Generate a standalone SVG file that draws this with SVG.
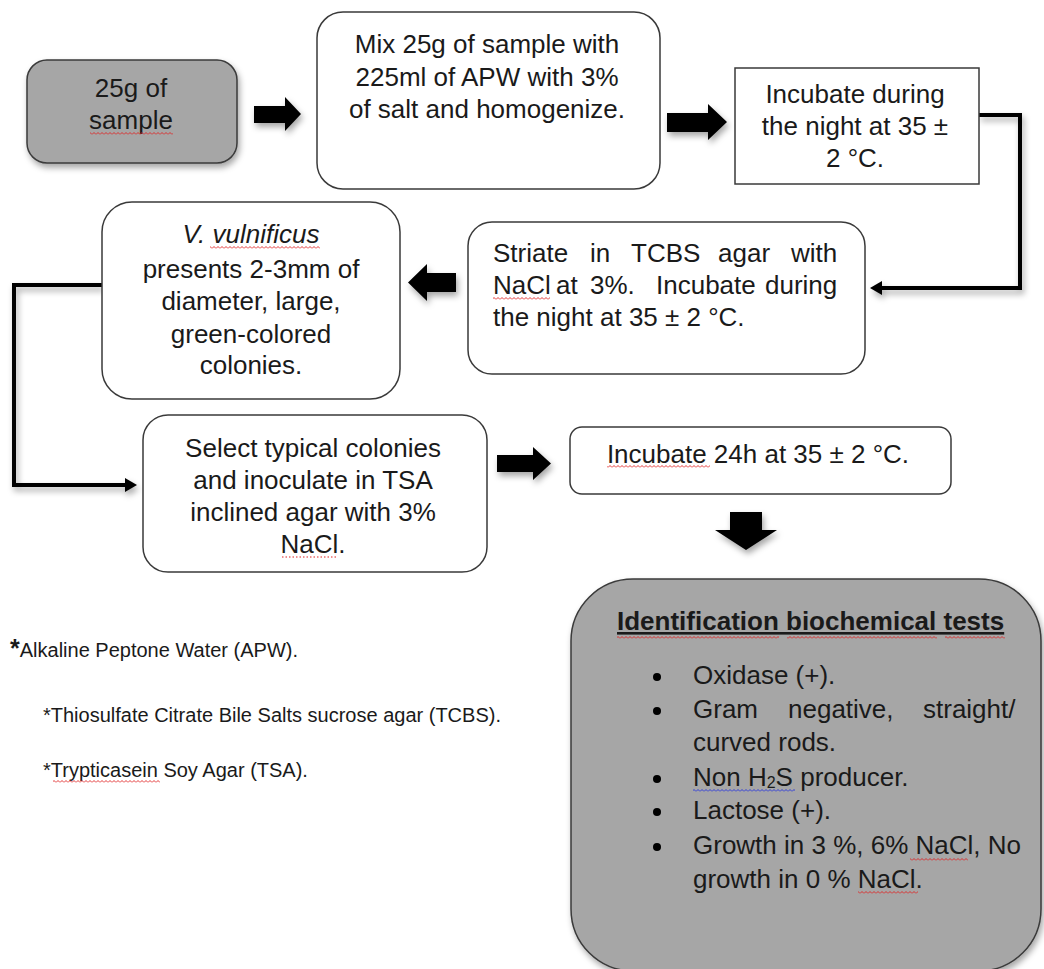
<svg xmlns="http://www.w3.org/2000/svg" width="1044" height="969" viewBox="0 0 1044 969">
<style>
.t{font-family:"Liberation Sans",Arial,sans-serif;font-size:26px;fill:#1a1a1a}
.c{text-anchor:middle}
.fn{font-family:"Liberation Sans",Arial,sans-serif;font-size:20px;fill:#1a1a1a}
.box{fill:#fff;stroke:#3a3a3a;stroke-width:1.5}
.gbox{fill:#a6a6a6;stroke:#3a3a3a;stroke-width:1.5}
.blk{fill:#000}
.conn{fill:none;stroke:#000;stroke-width:4}
.sq{fill:url(#sqr)}
.sqb{fill:url(#sqb)}
</style>
<defs>
<filter id="sh" x="-20%" y="-20%" width="150%" height="160%">
<feDropShadow dx="2" dy="4" stdDeviation="3" flood-color="#000" flood-opacity="0.35"/>
</filter>
<marker id="ah" markerWidth="12" markerHeight="14" refX="5" refY="7" orient="auto" markerUnits="userSpaceOnUse">
<path d="M0,0 L12,7 L0,14 z" fill="#000"/>
</marker>
<pattern id="sqr" width="4" height="3" patternUnits="userSpaceOnUse">
<path d="M0,2.5 L2,0.5 L4,2.5" fill="none" stroke="#e02020" stroke-width="0.9"/>
</pattern>
<pattern id="sqb" width="4" height="3" patternUnits="userSpaceOnUse">
<path d="M0,2.5 L2,0.5 L4,2.5" fill="none" stroke="#2030e0" stroke-width="0.9"/>
</pattern>
</defs>
<rect width="1044" height="969" fill="#fff"/>

<g id="connectors">
<path class="conn" d="M979,115 H1020 V288 H877" marker-end="url(#ah)" filter="url(#sh)"/>
<path class="conn" d="M102,285 H14 V485 H130" marker-end="url(#ah)" filter="url(#sh)"/>
<path class="blk" d="M254,106 H285 V97 L301,114 L285,131 V123 H254 Z" filter="url(#sh)"/>
<path class="blk" d="M667,113 H708 V104 L727,122 L708,140 V132 H667 Z" filter="url(#sh)"/>
<path class="blk" d="M456,273 H427 V264 L408,282.5 L427,301 V292 H456 Z" filter="url(#sh)"/>
<path class="blk" d="M497,455 H533 V447 L551,463.5 L533,480 V472 H497 Z" filter="url(#sh)"/>
<path class="blk" d="M730,512 H762 V530 H777 L746,550 L715,530 H730 Z" filter="url(#sh)"/>
</g>

<g id="n1">
<rect class="gbox" x="27" y="60" width="210" height="103" rx="20" filter="url(#sh)"/>
<text class="t c" x="131" y="97">25g of</text>
<text class="t c" x="131" y="129">sample</text>
<rect class="sq" x="90" y="132" width="83" height="3"/>
</g>

<g id="n2">
<rect class="box" x="317" y="12" width="343" height="177" rx="26"/>
<text class="t c" x="487" y="53">Mix 25g of sample with</text>
<text class="t c" x="487" y="86">225ml of APW with 3%</text>
<text class="t c" x="487" y="118">of salt and homogenize.</text>
</g>

<g id="n3">
<rect class="box" x="735" y="68" width="244" height="116"/>
<text class="t c" x="855" y="103">Incubate during</text>
<text class="t c" x="855" y="135">the night at 35 ±</text>
<text class="t c" x="855" y="167">2 °C.</text>
</g>

<g id="n4">
<rect class="box" x="468" y="222" width="397" height="152" rx="24"/>
<text class="t" y="262"><tspan x="493">Striate</tspan><tspan x="590">in</tspan><tspan x="631">TCBS</tspan><tspan x="718">agar</tspan><tspan x="791">with</tspan></text>
<text class="t" y="294"><tspan x="493">NaCl</tspan><tspan x="556">at</tspan><tspan x="590">3%.</tspan><tspan x="656">Incubate</tspan><tspan x="765">during</tspan></text>
<text class="t" x="493" y="326">the night at 35 ± 2 °C.</text>
<rect class="sq" x="493" y="297" width="57" height="3"/>
</g>

<g id="n5">
<rect class="box" x="102" y="202" width="298" height="197" rx="30"/>
<text class="t c" x="251" y="243"><tspan font-style="italic">V. vulnificus</tspan></text>
<text class="t c" x="251" y="278">presents 2-3mm of</text>
<text class="t c" x="251" y="310">diameter, large,</text>
<text class="t c" x="251" y="343">green-colored</text>
<text class="t c" x="251" y="374">colonies.</text>
<rect class="sq" x="210" y="246" width="110" height="3"/>
</g>

<g id="n6">
<rect class="box" x="143" y="415" width="344" height="157" rx="25"/>
<text class="t c" x="313" y="457">Select typical colonies</text>
<text class="t c" x="313" y="489">and inoculate in TSA</text>
<text class="t c" x="313" y="521">inclined agar with 3%</text>
<text class="t c" x="313" y="553">NaCl.</text>
<line x1="282" y1="557" x2="336" y2="557" stroke="#e02020" stroke-width="1" stroke-dasharray="1.5,2"/>
</g>

<g id="n7">
<rect class="box" x="570" y="427" width="381" height="67" rx="12"/>
<text class="t c" x="758" y="463">Incubate 24h at 35 ± 2 °C.</text>
<rect class="sq" x="607" y="465" width="103" height="3"/>
</g>

<g id="n8">
<rect class="gbox" x="571" y="579" width="470" height="392" rx="62" filter="url(#sh)"/>
<text class="t" x="617" y="630" font-weight="bold" text-decoration="underline">Identification biochemical tests</text>
<rect class="sq" x="617" y="636" width="162" height="3"/>
<rect class="sq" x="787" y="636" width="150" height="3"/>
<rect class="sq" x="945" y="636" width="60" height="3"/>
<circle cx="657" cy="677" r="4" fill="#000"/>
<circle cx="657" cy="711" r="4" fill="#000"/>
<circle cx="657" cy="779" r="4" fill="#000"/>
<circle cx="657" cy="812" r="4" fill="#000"/>
<circle cx="657" cy="847" r="4" fill="#000"/>
<text class="t" x="693" y="684">Oxidase (+).</text>
<text class="t" y="718"><tspan x="693">Gram</tspan><tspan x="788">negative,</tspan><tspan x="923">straight/</tspan></text>
<text class="t" x="693" y="751">curved rods.</text>
<text class="t" x="693" y="786">Non H<tspan font-size="16" dy="2">2</tspan><tspan dy="-2">S producer.</tspan></text>
<rect class="sqb" x="693" y="789" width="102" height="3"/>
<text class="t" x="693" y="819">Lactose (+).</text>
<text class="t" x="693" y="854">Growth in 3 %, 6% NaCl, No</text>
<rect class="sq" x="910" y="858" width="58" height="3"/>
<text class="t" x="693" y="888">growth in 0 % NaCl.</text>
<rect class="sq" x="858" y="891" width="60" height="3"/>
</g>

<g id="notes">
<text class="fn" x="10" y="657"><tspan font-size="25" font-weight="bold">*</tspan><tspan>Alkaline Peptone Water (APW).</tspan></text>
<text class="fn" x="43" y="722">*Thiosulfate Citrate Bile Salts sucrose agar (TCBS).</text>
<text class="fn" x="43" y="777">*Trypticasein Soy Agar (TSA).</text>
<rect class="sq" x="53" y="780" width="107" height="3"/>
</g>
</svg>
